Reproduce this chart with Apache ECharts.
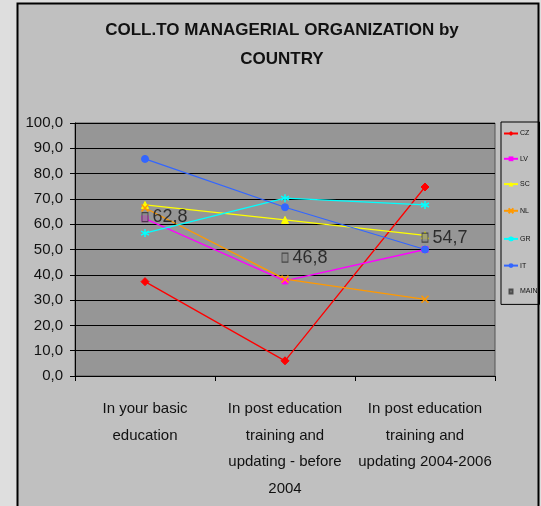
<!DOCTYPE html>
<html>
<head>
<meta charset="utf-8">
<script src="https://cdn.jsdelivr.net/npm/echarts@6/dist/echarts.min.js"></script>
<style>
  html, body { margin: 0; padding: 0; background: #dedede; }
  #chart { width: 541px; height: 506px; }
</style>
</head>
<body>
<div id="chart"></div>
<script>
const categories = [
  'In your basic\neducation',
  'In post education\ntraining and\nupdating - before\n2004',
  'In post education\ntraining and\nupdating 2004-2006'
];
const yTicks = [0, 10, 20, 30, 40, 50, 60, 70, 80, 90, 100];

const cz = [37.3, 6.0, 74.7];
const lv = [62.2, 37.6, 50.0];
const sc = [67.6, 61.7, 55.6];
const nl = [66.4, 38.3, 30.3];
const gr = [56.5, 70.3, 67.6];
const it = [85.8, 66.7, 50.0];
const main = [62.8, 46.8, 54.7];

const FONT = "'Liberation Sans Narrow', 'Liberation Sans', Arial, sans-serif";

const xMark = 'path://M0,0L10,10M10,0L0,10';
const star = 'path://M5,0L5,10M0,2.5L10,7.5M10,2.5L0,7.5';
// small square centred in a wide box so the legend icon is not stretched
const mainIcon = 'path://M0,0M14,6M5.5,1L8.5,1L8.5,5L5.5,5Z';

const lineSeries = (name, data, color, symbol, size, stroke) => ({
  name,
  type: 'line',
  data,
  symbol,
  symbolSize: size,
  showSymbol: true,
  lineStyle: { color, width: 1.3 },
  itemStyle: stroke
    ? { color: 'none', borderColor: color, borderWidth: 1.5 }
    : { color, borderColor: color },
  emphasis: { disabled: true },
  z: 3
});

const chart = echarts.init(document.getElementById('chart'));

chart.setOption({
  backgroundColor: '#dedede',
  animation: false,
  graphic: [{
    type: 'rect',
    shape: { x: 17.5, y: 3.5, width: 521, height: 520 },
    style: { fill: '#c0c0c0', stroke: '#000', lineWidth: 2 },
    z: -10,
    silent: true
  }],
  title: {
    text: 'COLL.TO MANAGERIAL ORGANIZATION by\nCOUNTRY',
    left: 277,
    textAlign: 'center',
    top: 11,
    textStyle: {
      fontFamily: FONT,
      fontSize: 17,
      fontWeight: 'bold',
      color: '#111',
      lineHeight: 29
    }
  },
  legend: {
    orient: 'vertical',
    left: 501,
    top: 122,
    padding: [8, 2, 9, 2],
    borderColor: '#000',
    borderWidth: 1,
    itemWidth: 14,
    itemHeight: 6,
    itemGap: 18.3,
    selectedMode: false,
    textStyle: { fontFamily: FONT, fontSize: 7, color: '#111', padding: [0, 0, 0, -3] },
    data: ['CZ', 'LV', 'SC', 'NL', 'GR', 'IT', { name: 'MAIN', icon: mainIcon }]
  },
  grid: {
    left: 75,
    right: 46,
    top: 123,
    bottom: 130,
    show: true,
    backgroundColor: '#969696',
    borderColor: '#555',
    borderWidth: 1
  },
  xAxis: {
    type: 'category',
    data: categories,
    boundaryGap: true,
    axisLine: { lineStyle: { color: '#000', width: 1 } },
    axisTick: { show: true, length: 5, lineStyle: { color: '#000' } },
    axisLabel: {
      fontFamily: FONT,
      fontSize: 15,
      color: '#111',
      lineHeight: 26.5,
      margin: 20,
      interval: 0
    }
  },
  yAxis: {
    type: 'value',
    min: yTicks[0],
    max: yTicks[yTicks.length - 1],
    interval: 10,
    axisLine: { show: true, lineStyle: { color: '#000', width: 1 } },
    axisTick: { show: true, length: 5, lineStyle: { color: '#000' } },
    splitLine: { lineStyle: { color: '#000', width: 1 } },
    axisLabel: {
      fontFamily: FONT,
      fontSize: 15,
      color: '#111',
      margin: 12,
      formatter: (v) => v.toFixed(1).replace('.', ',')
    }
  },
  series: [
    lineSeries('CZ', cz, '#ff0000', 'diamond', 8),
    lineSeries('LV', lv, '#ff00ff', 'rect', 6),
    lineSeries('SC', sc, '#ffff00', 'triangle', 7),
    lineSeries('NL', nl, '#ff9900', xMark, 7, true),
    lineSeries('GR', gr, '#00ffff', star, 8, true),
    lineSeries('IT', it, '#3366ff', 'circle', 7),
    {
      name: 'MAIN',
      type: 'scatter',
      data: main,
      symbol: 'rect',
      symbolSize: [6, 9],
      itemStyle: { color: '#8a8a8a', borderColor: '#333', borderWidth: 1 },
      label: {
        show: true,
        position: 'right',
        distance: 4,
        fontFamily: FONT,
        fontSize: 18,
        color: '#111',
        formatter: (p) => p.value.toFixed(1).replace('.', ',')
      },
      emphasis: { disabled: true },
      z: 4
    }
  ]
});
</script>
</body>
</html>
